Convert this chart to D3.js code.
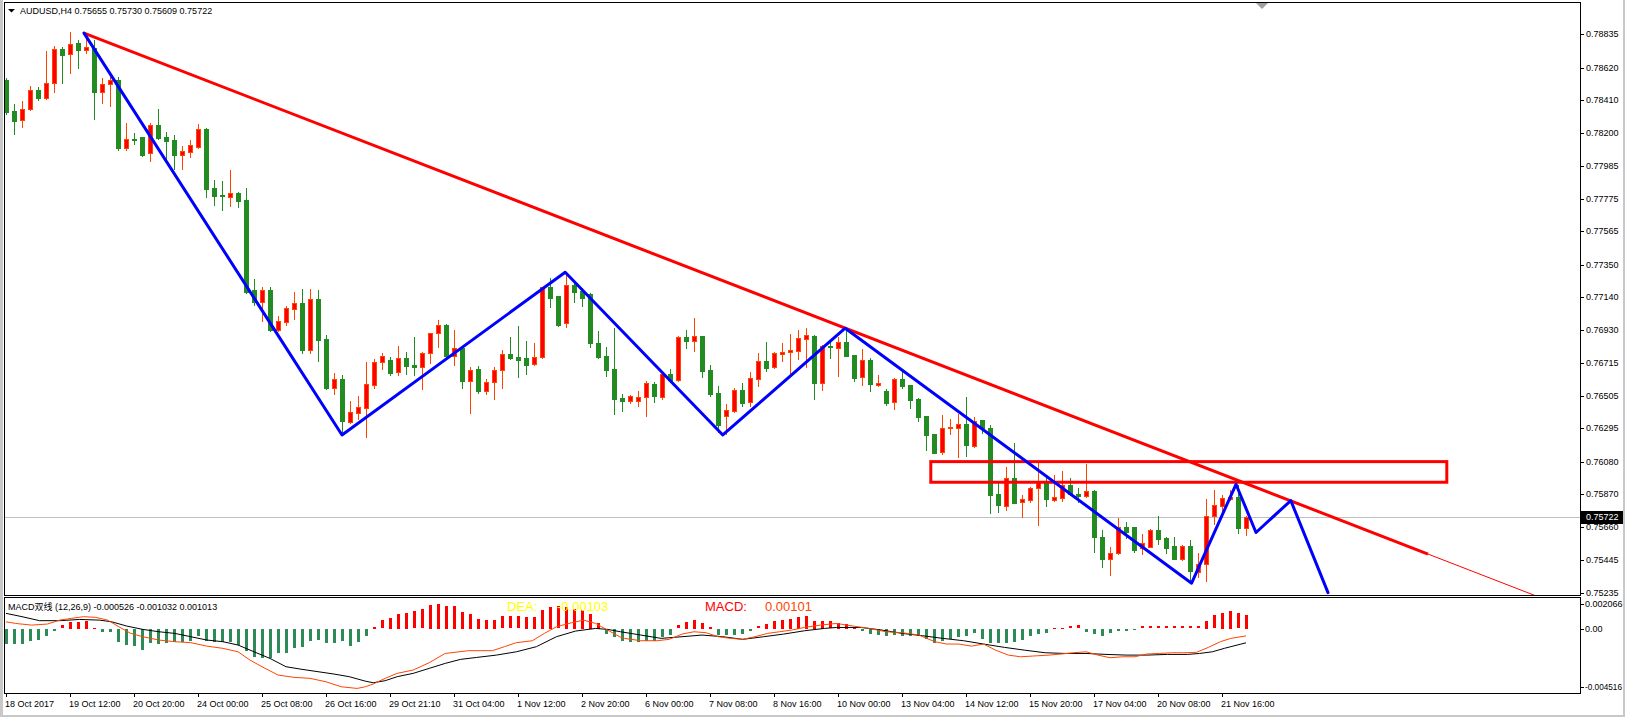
<!DOCTYPE html>
<html>
<head>
<meta charset="utf-8">
<script src="https://cdn.jsdelivr.net/npm/d3@7"></script>
<style>
  html, body { margin: 0; padding: 0; background: #fff; }
  svg { display: block; }
  text { font-family: "Liberation Sans", Arial, sans-serif; }
</style>
</head>
<body>
<div id="chart"></div>
<script>
const chartTitle = "AUDUSD,H4  0.75655 0.75730 0.75609 0.75722";
const macdTitle = "MACD双线 (12,26,9) -0.000526 -0.001032 0.001013";

// H4 candles, oldest first
const open = [0.78540,0.78341,0.78281,0.78352,0.78476,0.78426,0.78519,0.78740,0.78706,0.78779,
  0.78736,0.78745,0.78465,0.78513,0.78538,0.78104,0.78162,0.78173,0.78068,0.78250,
  0.78173,0.78154,0.78059,0.78078,0.78107,0.78225,0.77844,0.77801,0.77788,0.77812,
  0.77767,0.77187,0.77111,0.77187,0.76927,0.76982,0.77066,0.77101,0.76802,0.77127,
  0.76871,0.76557,0.76613,0.76337,0.76395,0.76428,0.76576,0.76720,0.76735,0.76656,
  0.76748,0.76703,0.76688,0.76778,0.76907,0.76959,0.76763,0.76811,0.76602,0.76675,
  0.76537,0.76591,0.76669,0.76772,0.76755,0.76748,0.76708,0.76753,0.77204,0.77148,
  0.76972,0.77219,0.77180,0.77161,0.76845,0.76761,0.76677,0.76488,0.76469,0.76473,
  0.76495,0.76580,0.76499,0.76643,0.76606,0.76882,0.76860,0.76890,0.76671,0.76521,
  0.76376,0.76408,0.76542,0.76463,0.76615,0.76727,0.76692,0.76776,0.76789,0.76795,
  0.76873,0.76890,0.76589,0.76826,0.76815,0.76851,0.76767,0.76624,0.76733,0.76576,
  0.76535,0.76463,0.76611,0.76574,0.76484,0.76372,0.76258,0.76142,0.76295,0.76299,
  0.76323,0.76181,0.76348,0.76297,0.75871,0.75796,0.75972,0.75818,0.75833,0.75908,
  0.75940,0.75835,0.75848,0.75929,0.75871,0.75860,0.75891,0.75592,0.75454,0.75489,
  0.75657,0.75657,0.75521,0.75532,0.75639,0.75586,0.75536,0.75454,0.75536,0.75370,
  0.75418,0.75728,0.75796,0.75841,0.75850,0.75655];
const high = [0.78551,0.78386,0.78405,0.78502,0.78495,0.78727,0.78760,0.78751,0.78852,0.78798,
  0.78840,0.78798,0.78551,0.78562,0.78558,0.78261,0.78199,0.78175,0.78263,0.78353,
  0.78205,0.78184,0.78115,0.78154,0.78257,0.78229,0.77896,0.77889,0.77960,0.77818,
  0.77844,0.77257,0.77204,0.77206,0.77019,0.77083,0.77174,0.77193,0.77193,0.77187,
  0.76896,0.76651,0.76638,0.76471,0.76503,0.76724,0.76740,0.76780,0.76753,0.76826,
  0.76787,0.76884,0.76787,0.76909,0.76993,0.76965,0.76929,0.76821,0.76690,0.76695,
  0.76611,0.76690,0.76798,0.76882,0.76953,0.76856,0.76843,0.77208,0.77262,0.77151,
  0.77301,0.77251,0.77198,0.77169,0.76922,0.76819,0.76942,0.76516,0.76510,0.76535,
  0.76600,0.76593,0.76658,0.76675,0.76892,0.76929,0.77006,0.76892,0.76703,0.76568,
  0.76450,0.76557,0.76585,0.76660,0.76782,0.76851,0.76789,0.76847,0.76901,0.76929,
  0.76940,0.76898,0.76830,0.76853,0.76885,0.76948,0.76770,0.76804,0.76746,0.76637,
  0.76546,0.76619,0.76664,0.76576,0.76490,0.76374,0.76261,0.76381,0.76355,0.76387,
  0.76497,0.76366,0.76350,0.76316,0.75940,0.76047,0.76202,0.75865,0.75918,0.76073,
  0.75972,0.75992,0.76020,0.75975,0.75908,0.76065,0.75895,0.75639,0.75530,0.75715,
  0.75689,0.75659,0.75613,0.75646,0.75728,0.75596,0.75596,0.75541,0.75575,0.75491,
  0.75839,0.75897,0.75865,0.75897,0.75929,0.75730];
const low = [0.78321,0.78194,0.78239,0.78347,0.78411,0.78418,0.78465,0.78523,0.78584,0.78620,
  0.78712,0.78289,0.78394,0.78375,0.78087,0.78089,0.78130,0.78050,0.78020,0.78163,
  0.78025,0.77965,0.77967,0.78046,0.78099,0.77784,0.77735,0.77702,0.77728,0.77724,
  0.77169,0.77092,0.76989,0.76922,0.76919,0.76963,0.77002,0.76782,0.76778,0.76731,
  0.76546,0.76518,0.76258,0.76327,0.76357,0.76241,0.76557,0.76677,0.76640,0.76637,
  0.76645,0.76640,0.76550,0.76718,0.76821,0.76744,0.76705,0.76557,0.76392,0.76521,
  0.76514,0.76482,0.76557,0.76740,0.76627,0.76645,0.76700,0.76748,0.77079,0.76956,
  0.76946,0.77111,0.77085,0.76817,0.76746,0.76634,0.76385,0.76408,0.76460,0.76441,
  0.76376,0.76466,0.76484,0.76595,0.76600,0.76815,0.76795,0.76627,0.76503,0.76271,
  0.76258,0.76403,0.76439,0.76439,0.76568,0.76666,0.76685,0.76729,0.76632,0.76744,
  0.76688,0.76486,0.76542,0.76750,0.76632,0.76761,0.76602,0.76576,0.76537,0.76570,
  0.76447,0.76417,0.76557,0.76424,0.76344,0.76155,0.76134,0.76132,0.76258,0.76112,
  0.76118,0.76174,0.76263,0.75751,0.75753,0.75768,0.75811,0.75721,0.75822,0.75672,
  0.75794,0.75829,0.75829,0.75863,0.75822,0.75855,0.75499,0.75403,0.75347,0.75487,
  0.75588,0.75499,0.75487,0.75527,0.75549,0.75493,0.75450,0.75446,0.75304,0.75338,
  0.75312,0.75678,0.75747,0.75833,0.75622,0.75609];
const close = [0.78336,0.78278,0.78352,0.78476,0.78426,0.78521,0.78738,0.78703,0.78771,0.78736,
  0.78751,0.78465,0.78513,0.78538,0.78104,0.78160,0.78152,0.78057,0.78248,0.78168,
  0.78149,0.78059,0.78081,0.78119,0.78225,0.77840,0.77795,0.77795,0.77812,0.77762,
  0.77176,0.77111,0.77187,0.76929,0.76985,0.77070,0.77101,0.76800,0.77127,0.76864,
  0.76553,0.76611,0.76342,0.76398,0.76430,0.76579,0.76722,0.76759,0.76653,0.76746,
  0.76698,0.76687,0.76778,0.76907,0.76959,0.76763,0.76811,0.76602,0.76669,0.76537,
  0.76591,0.76669,0.76772,0.76750,0.76737,0.76705,0.76753,0.77204,0.77137,0.76961,
  0.77219,0.77176,0.77137,0.76843,0.76757,0.76671,0.76486,0.76468,0.76501,0.76495,
  0.76585,0.76505,0.76643,0.76606,0.76882,0.76860,0.76890,0.76666,0.76516,0.76316,
  0.76413,0.76542,0.76460,0.76617,0.76727,0.76686,0.76778,0.76787,0.76800,0.76875,
  0.76896,0.76589,0.76826,0.76817,0.76849,0.76763,0.76619,0.76733,0.76579,0.76589,
  0.76460,0.76611,0.76570,0.76479,0.76370,0.76252,0.76138,0.76297,0.76305,0.76323,
  0.76187,0.76344,0.76295,0.75865,0.75800,0.75972,0.75815,0.75837,0.75910,0.75947,
  0.75837,0.75852,0.75929,0.75871,0.75860,0.75891,0.75592,0.75454,0.75489,0.75657,
  0.75628,0.75510,0.75554,0.75639,0.75579,0.75525,0.75454,0.75536,0.75377,0.75418,
  0.75728,0.75800,0.75844,0.75852,0.75654,0.75722];

const priceTicks = [0.78835,0.78620,0.78410,0.78200,0.77985,0.77775,0.77565,0.77350,0.77140,
  0.76930,0.76715,0.76505,0.76295,0.76080,0.75870,0.75660,0.75445,0.75235];
const dateLabels = ["18 Oct 2017","19 Oct 12:00","20 Oct 20:00","24 Oct 00:00","25 Oct 08:00",
  "26 Oct 16:00","29 Oct 21:10","31 Oct 04:00","1 Nov 12:00","2 Nov 20:00","6 Nov 00:00",
  "7 Nov 08:00","8 Nov 16:00","10 Nov 00:00","13 Nov 04:00","14 Nov 12:00","15 Nov 20:00",
  "17 Nov 04:00","20 Nov 08:00","21 Nov 16:00"];
const barsPerLabel = 8;

// drawn objects: [bar index, price]
const trendLine = [[9.75, 0.78843], [177.75, 0.75484]];
const zigzagBars = [9.75, 42.0, 69.9, 89.6, 104.9, 148.2, 153.75, 156.25, 160.6, 165.25];
const zigzagPrices = [0.78843, 0.76252, 0.77301, 0.76252, 0.76940, 0.75296, 0.75934, 0.75623, 0.75829, 0.75235];
const zoneBars = [115.6, 180.1];
const zonePrices = [0.76080, 0.75947];

// MACD subwindow
const macdHist = [-0.00108,-0.00108,-0.00108,-0.00089,-0.00077,-0.00053,-0.00012,0.00024,0.00048,0.00048,
  0.00055,0.00007,-0.00019,-0.00024,-0.00092,-0.00113,-0.00125,-0.00149,-0.00104,-0.00108,
  -0.00104,-0.00096,-0.00094,-0.00084,-0.00048,-0.00084,-0.00096,-0.00096,-0.00096,-0.00113,
  -0.00157,-0.00200,-0.00210,-0.00210,-0.00176,-0.00174,-0.00140,-0.00128,-0.00089,-0.00077,
  -0.00104,-0.00104,-0.00084,-0.00120,-0.00092,-0.00051,0.00012,0.00060,0.00080,0.00108,
  0.00116,0.00125,0.00140,0.00174,0.00181,0.00166,0.00166,0.00123,0.00108,0.00070,
  0.00065,0.00065,0.00089,0.00089,0.00089,0.00084,0.00084,0.00137,0.00157,0.00161,
  0.00157,0.00145,0.00137,0.00108,0.00043,-0.00036,-0.00060,-0.00089,-0.00096,-0.00096,
  -0.00084,-0.00089,-0.00060,-0.00041,0.00024,0.00048,0.00065,0.00043,0.00012,-0.00041,
  -0.00041,-0.00041,-0.00036,-0.00017,0.00017,0.00036,0.00055,0.00065,0.00072,0.00084,
  0.00092,0.00055,0.00055,0.00053,0.00041,0.00036,0.00007,-0.00012,-0.00036,-0.00041,
  -0.00048,-0.00041,-0.00048,-0.00053,-0.00053,-0.00072,-0.00104,-0.00089,-0.00072,-0.00060,
  -0.00048,-0.00031,-0.00072,-0.00104,-0.00104,-0.00104,-0.00096,-0.00080,-0.00048,-0.00036,
  -0.00031,0.00007,0.00007,0.00017,0.00024,-0.00024,-0.00036,-0.00051,-0.00031,-0.00012,
  -0.00012,-0.00007,0.00017,0.00017,0.00017,0.00017,0.00017,0.00017,0.00017,0.00017,
  0.00055,0.00096,0.00116,0.00128,0.00111,0.00101];
const diffLine = [[0,0.00049],[1.2,0.00037],[3.2,0.00025],[5.2,0.00033],[6.7,0.00061],[8.2,0.00074],
  [9.7,0.00086],[11.2,0.00081],[12.7,0.00061],[14.1,0.00013],[15.6,-0.00035],[17.1,-0.00059],
  [19.1,-0.00083],[21.1,-0.00095],[23.1,-0.00102],[25.1,-0.00127],[27.1,-0.00143],[29,-0.00168],
  [30.5,-0.00228],[32,-0.00276],[34,-0.00336],[36,-0.00353],[38,-0.0036],[40,-0.00385],
  [41.9,-0.00421],[43.9,-0.00433],[44.9,-0.00421],[45.9,-0.00401],[47.4,-0.0036],[48.9,-0.00324],
  [50.9,-0.003],[52.9,-0.00247],[54.9,-0.0018],[57.8,-0.0016],[60.8,-0.0016],[62.3,-0.00131],
  [63.8,-0.00102],[65.8,-0.00088],[67.3,-0.00035],[68.8,0.00013],[70.7,0.00042],[72.2,0.00061],
  [73.7,0.00037],[75.2,-0.00011],[76.7,-0.00059],[77.3,-0.00071],[79.35,-0.00088],[81.4,-0.00088],
  [82.9,-0.00078],[84.5,-0.0004],[86,-0.00023],[87.5,-0.0003],[89.05,-0.00059],[90.6,-0.00071],
  [92.1,-0.00078],[93.6,-0.00059],[95.2,-0.00035],[96.7,-0.00023],[98.2,-0.00011],[99.8,0.00008],
  [101.8,0.00025],[103.8,0.00037],[105.9,0.00018],[107.9,0.00001],[110,-0.00023],[112,-0.0003],
  [114.1,-0.00047],[116.1,-0.00095],[117.6,-0.00112],[119.1,-0.00112],[120.7,-0.00127],[122.2,-0.00112],
  [123.7,-0.00156],[125.3,-0.00192],[126.8,-0.00204],[128.3,-0.00199],[130.4,-0.00192],[131.9,-0.00184],
  [133.4,-0.00175],[135,-0.00168],[136.5,-0.00192],[138,-0.00211],[139.6,-0.00204],[141.1,-0.00204],
  [142.6,-0.00184],[144.2,-0.0018],[145.7,-0.00175],[147.2,-0.00175],[148.8,-0.00172],[150.3,-0.00136],
  [151.8,-0.00095],[153.1,-0.00071],[155,-0.00053]];
const deaLine = [[0,0.0011],[2,0.00086],[4.2,0.00057],[6.7,0.00057],[9.2,0.00066],[11.7,0.00061],
  [13.2,0.00049],[15.1,0.00018],[17.1,-0.00006],[19.1,-0.00023],[21.1,-0.00035],[23.1,-0.00059],
  [25.1,-0.00083],[27.1,-0.00095],[29,-0.00119],[31,-0.00168],[33,-0.00216],[35,-0.00276],
  [37,-0.00295],[39,-0.00312],[41,-0.00329],[42.9,-0.00348],[44.9,-0.0038],[45.9,-0.00392],
  [47.4,-0.00377],[48.9,-0.00348],[50.9,-0.00324],[52.9,-0.00288],[54.9,-0.00252],[56.8,-0.00223],
  [58.8,-0.00209],[61.3,-0.00192],[63.8,-0.00168],[66.3,-0.00131],[68.8,-0.00059],[71.2,-0.00018],
  [73.7,0.00001],[75.2,-0.00006],[76.8,-0.00023],[79.35,-0.00047],[81.9,-0.00071],[84.5,-0.00059],
  [87,-0.00047],[89.6,-0.00059],[92.1,-0.00078],[94.7,-0.00059],[97.2,-0.0004],[99.8,-0.00016],
  [102.3,0.00001],[103.8,0.00008],[106.9,0.00008],[109.5,-0.00011],[112,-0.00035],[114.6,-0.00052],
  [117.1,-0.00071],[119.7,-0.00088],[122.2,-0.00112],[124.8,-0.00136],[127.3,-0.00156],[129.9,-0.00175],
  [132.4,-0.0018],[135,-0.0018],[137.5,-0.00187],[140.1,-0.00192],[142.6,-0.00192],[145.2,-0.00187],
  [147.7,-0.00187],[149.2,-0.0018],[150.8,-0.00168],[152.3,-0.00143],[153.1,-0.00131],[155,-0.00103]];
const macdTicks = [0.002066, 0.00, -0.004516];
const macdTickText = ["0.002066", "0.00", "-0.004516"];
const deaLabel = ["DEA:", "-0.00103"];
const macdLabel = ["MACD:", "0.00101"];

const W = 1625, H = 717;
const plot = { left: 4, right: 1580, top: 2, bottom: 595 };
const sub = { top: 597, bottom: 693 };

const svg = d3.select("#chart").append("svg")
  .attr("width", W).attr("height", H);

svg.append("rect").attr("width", W).attr("height", H).attr("fill", "#fff");
// window edges
svg.append("rect").attr("x", 0).attr("y", 0).attr("width", 3).attr("height", H).attr("fill", "#c8c8c8");
svg.append("rect").attr("x", W - 2).attr("y", 0).attr("width", 2).attr("height", H).attr("fill", "#c8c8c8");
svg.append("rect").attr("x", 0).attr("y", H - 2).attr("width", W).attr("height", 2).attr("fill", "#c8c8c8");

const x = d3.scaleLinear().domain([0, 155]).range([6, 1246]);
const y = d3.scaleLinear().domain([0.75220, 0.79037]).range([595, 3]);
const m = d3.scaleLinear().domain([-0.004516, 0.002066]).range([691, 600]);
const px = v => Math.round(v) + 0.5;

const defs = svg.append("defs");
defs.append("clipPath").attr("id", "clipMain").append("rect")
  .attr("x", plot.left + 1).attr("y", plot.top + 1)
  .attr("width", plot.right - plot.left - 1).attr("height", plot.bottom - plot.top - 1);
defs.append("clipPath").attr("id", "clipSub").append("rect")
  .attr("x", plot.left + 1).attr("y", sub.top + 1)
  .attr("width", plot.right - plot.left - 1).attr("height", sub.bottom - sub.top - 1);

const main = svg.append("g").attr("clip-path", "url(#clipMain)");

// current bid line
const last = close[close.length - 1];
main.append("line")
  .attr("x1", plot.left).attr("x2", plot.right)
  .attr("y1", px(y(last))).attr("y2", px(y(last)))
  .attr("stroke", "#c0c0c0");

// candles
const bars = d3.range(open.length).map(i => ({
  i, o: open[i], h: high[i], l: low[i], c: close[i], up: close[i] >= open[i]
}));
const cg = main.append("g").selectAll("g").data(bars).join("g");
cg.append("line")
  .attr("x1", d => px(x(d.i))).attr("x2", d => px(x(d.i)))
  .attr("y1", d => Math.round(y(d.h))).attr("y2", d => Math.round(y(d.l)) + 1)
  .attr("stroke", d => d.up ? "#ff4500" : "#228b22");
cg.append("rect")
  .attr("x", d => Math.round(x(d.i)) - 2 + 0.5)
  .attr("width", 4)
  .attr("y", d => Math.round(y(Math.max(d.o, d.c))) + 0.5)
  .attr("height", d => Math.max(1, Math.round(y(Math.min(d.o, d.c))) - Math.round(y(Math.max(d.o, d.c)))))
  .attr("fill", d => d.up ? "#ff0000" : "#228b22")
  .attr("stroke", d => d.up ? "#ff4500" : "#228b22");

// trend line: thick between anchors, thin ray beyond
const tl = trendLine;
const slope = (tl[1][1] - tl[0][1]) / (tl[1][0] - tl[0][0]);
main.append("line")
  .attr("x1", x(tl[0][0])).attr("y1", y(tl[0][1]))
  .attr("x2", x(tl[1][0])).attr("y2", y(tl[1][1]))
  .attr("stroke", "#ff0000").attr("stroke-width", 3);
main.append("line")
  .attr("x1", x(tl[1][0])).attr("y1", y(tl[1][1]))
  .attr("x2", x(tl[1][0] + 40)).attr("y2", y(tl[1][1] + slope * 40))
  .attr("stroke", "#ff0000").attr("stroke-width", 1);

// zone rectangle
main.append("rect")
  .attr("x", x(zoneBars[0])).attr("y", y(zonePrices[0]))
  .attr("width", x(zoneBars[1]) - x(zoneBars[0]))
  .attr("height", y(zonePrices[1]) - y(zonePrices[0]))
  .attr("fill", "none").attr("stroke", "#ff0000").attr("stroke-width", 3);

// zigzag
main.append("path")
  .datum(d3.zip(zigzagBars, zigzagPrices))
  .attr("d", d3.line().x(d => x(d[0])).y(d => y(d[1])))
  .attr("fill", "none").attr("stroke", "#0000ff").attr("stroke-width", 3)
  .attr("stroke-linejoin", "round").attr("stroke-linecap", "round");

// frames
svg.append("rect")
  .attr("x", plot.left + 0.5).attr("y", plot.top + 0.5)
  .attr("width", plot.right - plot.left).attr("height", plot.bottom - plot.top)
  .attr("fill", "none").attr("stroke", "#000");
svg.append("rect")
  .attr("x", plot.left + 0.5).attr("y", sub.top + 0.5)
  .attr("width", plot.right - plot.left).attr("height", sub.bottom - sub.top)
  .attr("fill", "none").attr("stroke", "#000");

// chart shift marker
svg.append("path")
  .attr("d", "M1256,3 L1268,3 L1262,9 Z")
  .attr("fill", "#a0a0a0");

// title
svg.append("path").attr("d", "M8,9 L15,9 L11.5,12.5 Z").attr("fill", "#000");
svg.append("text").attr("x", 20).attr("y", 14)
  .attr("font-size", 9).attr("fill", "#000").text(chartTitle);

// price axis
const pa = svg.append("g");
pa.selectAll("line").data(priceTicks).join("line")
  .attr("x1", plot.right).attr("x2", plot.right + 4)
  .attr("y1", d => px(y(d))).attr("y2", d => px(y(d)))
  .attr("stroke", "#000");
pa.selectAll("text").data(priceTicks).join("text")
  .attr("x", plot.right + 6).attr("y", d => y(d)).attr("dy", "0.35em")
  .attr("font-size", 9).attr("fill", "#000")
  .text(d => d.toFixed(5));
svg.append("rect")
  .attr("x", plot.right + 1).attr("y", Math.round(y(last)) - 6)
  .attr("width", 42).attr("height", 13).attr("fill", "#000");
svg.append("text")
  .attr("x", plot.right + 6).attr("y", y(last)).attr("dy", "0.35em")
  .attr("font-size", 9).attr("fill", "#fff").text(last.toFixed(5));

// MACD subwindow
const sg = svg.append("g").attr("clip-path", "url(#clipSub)");
sg.selectAll("rect").data(macdHist).join("rect")
  .attr("x", (d, i) => Math.round(x(i)) - 1)
  .attr("width", 3)
  .attr("y", d => Math.round(Math.min(m(0), m(d))))
  .attr("height", d => Math.max(1, Math.round(Math.abs(m(d) - m(0)))))
  .attr("fill", d => d >= 0 ? "#ff0000" : "#2e8b57");
const ml = d3.line().x(d => x(d[0])).y(d => m(d[1]));
sg.append("path").datum(deaLine).attr("d", ml)
  .attr("fill", "none").attr("stroke", "#000").attr("stroke-width", 1);
sg.append("path").datum(diffLine).attr("d", ml)
  .attr("fill", "none").attr("stroke", "#ff4500").attr("stroke-width", 1);

svg.append("text").attr("x", 8).attr("y", 610)
  .attr("font-size", 9).attr("fill", "#000").text(macdTitle)
  .style("font-family", "'Liberation Sans','Noto Sans CJK SC',sans-serif");
svg.append("text").attr("x", 507).attr("y", 611).attr("font-size", 13)
  .attr("fill", "#ffff00").text(deaLabel[0]);
svg.append("text").attr("x", 557).attr("y", 611).attr("font-size", 13)
  .attr("fill", "#ffff00").text(deaLabel[1]);
svg.append("text").attr("x", 705).attr("y", 611).attr("font-size", 13)
  .attr("fill", "#ff0000").text(macdLabel[0]);
svg.append("text").attr("x", 765).attr("y", 611).attr("font-size", 13)
  .attr("fill", "#ff4500").text(macdLabel[1]);

// macd axis
const clampY = v => Math.min(687, Math.max(604, m(v)));
const ma = svg.append("g");
ma.selectAll("line").data(macdTicks).join("line")
  .attr("x1", plot.right).attr("x2", plot.right + 4)
  .attr("y1", d => px(clampY(d))).attr("y2", d => px(clampY(d)))
  .attr("stroke", "#000");
ma.selectAll("text").data(macdTicks).join("text")
  .attr("x", plot.right + 5)
  .attr("y", d => clampY(d)).attr("dy", "0.35em")
  .attr("font-size", 9).attr("fill", "#000")
  .attr("textLength", (d, i) => macdTickText[i].length > 8 ? 37 : null)
  .attr("lengthAdjust", "spacingAndGlyphs")
  .text((d, i) => macdTickText[i]);

// date axis
const da = svg.append("g");
da.selectAll("line").data(dateLabels).join("line")
  .attr("x1", (d, k) => px(x(k * barsPerLabel))).attr("x2", (d, k) => px(x(k * barsPerLabel)))
  .attr("y1", sub.bottom).attr("y2", sub.bottom + 4)
  .attr("stroke", "#000");
da.selectAll("text").data(dateLabels).join("text")
  .attr("x", (d, k) => x(k * barsPerLabel) - 1).attr("y", 707)
  .attr("font-size", 9).attr("fill", "#000")
  .text(d => d);
</script>
</body>
</html>
